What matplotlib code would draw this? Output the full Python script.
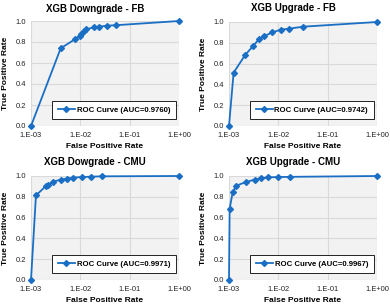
import matplotlib
matplotlib.use("Agg")
import matplotlib.pyplot as plt
from matplotlib.ticker import FixedLocator, FixedFormatter, NullLocator

plt.rcParams['font.family'] = ['Liberation Sans', 'DejaVu Sans']

titles = ["XGB Downgrade - FB", "XGB Upgrade - FB", "XGB Dowgrade - CMU", "XGB Upgrade - CMU"]
aucs = ["0.9760", "0.9742", "0.9971", "0.9967"]

fpr_dn_fb = [1e-3, 4.0e-3, 7.7e-3, 1.0e-2, 1.05e-2, 1.17e-2, 1.32e-2, 1.87e-2, 2.4e-2, 3.4e-2, 5.3e-2, 1.0]
tpr_dn_fb = [0.0, 0.74, 0.825, 0.86, 0.88, 0.905, 0.92, 0.94, 0.946, 0.955, 0.96, 1.0]

fpr_up_fb = [1e-3, 1.24e-3, 2.15e-3, 3.1e-3, 4.0e-3, 5.1e-3, 7.5e-3, 1.12e-2, 1.65e-2, 3.2e-2, 1.0]
tpr_up_fb = [0.0, 0.513, 0.686, 0.77, 0.833, 0.862, 0.90, 0.926, 0.936, 0.955, 1.0]

fpr_dn_cmu = [1e-3, 1.26e-3, 2.0e-3, 2.2e-3, 2.75e-3, 4.05e-3, 5.3e-3, 7.2e-3, 1.08e-2, 1.67e-2, 2.8e-2, 1.0]
tpr_dn_cmu = [0.0, 0.813, 0.903, 0.913, 0.945, 0.965, 0.974, 0.984, 0.99, 0.994, 0.997, 1.0]

fpr_up_cmu = [1e-3, 1.03e-3, 1.19e-3, 1.41e-3, 2.2e-3, 3.3e-3, 4.4e-3, 6.3e-3, 1.0e-2, 1.7e-2, 1.0]
tpr_up_cmu = [0.0, 0.685, 0.846, 0.907, 0.942, 0.965, 0.977, 0.987, 0.99, 0.992, 1.0]

series = [(fpr_dn_fb, tpr_dn_fb), (fpr_up_fb, tpr_up_fb), (fpr_dn_cmu, tpr_dn_cmu), (fpr_up_cmu, tpr_up_cmu)]

xticks = [1e-3, 1e-2, 1e-1, 1e0]
xtick_labels = ["1.E-03", "1.E-02", "1.E-01", "1.E+00"]
yticks = [0.0, 0.2, 0.4, 0.6, 0.8, 1.0]

W, H = 390, 305
fig = plt.figure(figsize=(W / 100, H / 100), dpi=100)

# plot-area boxes in pixels: (left, top, right, bottom)
boxes = [(31, 21, 179, 126), (229, 22, 377, 126), (31, 176, 179, 280), (229, 176, 377, 280)]
# title centres in pixels
title_pos = [(95, 9), (293, 8), (95, 162), (293, 162)]
color = '#1a6fc4'

for (l, t, r, b), (tx, tyy), title, auc, (fx, ty) in zip(boxes, title_pos, titles, aucs, series):
    ax = fig.add_axes([l / W, 1 - b / H, (r - l) / W, (b - t) / H])
    ax.set_facecolor('#f2f2f2')
    ax.set_xscale('log')
    ax.set_xlim(1e-3, 1.0)
    ax.set_ylim(0, 1.0)
    ax.xaxis.set_major_locator(FixedLocator(xticks))
    ax.xaxis.set_major_formatter(FixedFormatter(xtick_labels))
    ax.xaxis.set_minor_locator(NullLocator())
    ax.set_yticks(yticks)
    ax.set_yticklabels([f"{v:.1f}" for v in yticks])
    ax.grid(True, color='#d9d9d9', linewidth=0.8)
    ax.set_axisbelow(True)
    for s in ax.spines.values():
        s.set_visible(False)
    ax.tick_params(axis='x', length=0, labelsize=5.4, pad=4, colors='#222222')
    ax.tick_params(axis='y', length=0, labelsize=5.4, pad=3.5, colors='#222222')
    ax.plot(fx, ty, color=color, linewidth=1.3, marker='D', markersize=3.0,
            label=f"ROC Curve (AUC={auc})", clip_on=False)
    fig.text(tx / W, 1 - tyy / H, title, fontsize=7.0, fontweight='bold',
             ha='center', va='center')
    ax.set_xlabel("False Positive Rate", fontsize=6.0, fontweight='bold', labelpad=3)
    ax.set_ylabel("True Positive Rate", fontsize=6.0, fontweight='bold', labelpad=5)
    aw, ah = r - l, b - t
    leg = ax.legend(loc='lower right', bbox_to_anchor=(1 - 3.5 / aw, 7 / ah),
                    frameon=True, fancybox=False,
                    edgecolor='black', framealpha=1.0, handlelength=2.2,
                    handletextpad=0.2, borderpad=0.7, borderaxespad=0.0,
                    prop={'weight': 'bold', 'size': 5.6})
    leg.get_frame().set_linewidth(0.6)

fig.savefig("out.png", dpi=100)
